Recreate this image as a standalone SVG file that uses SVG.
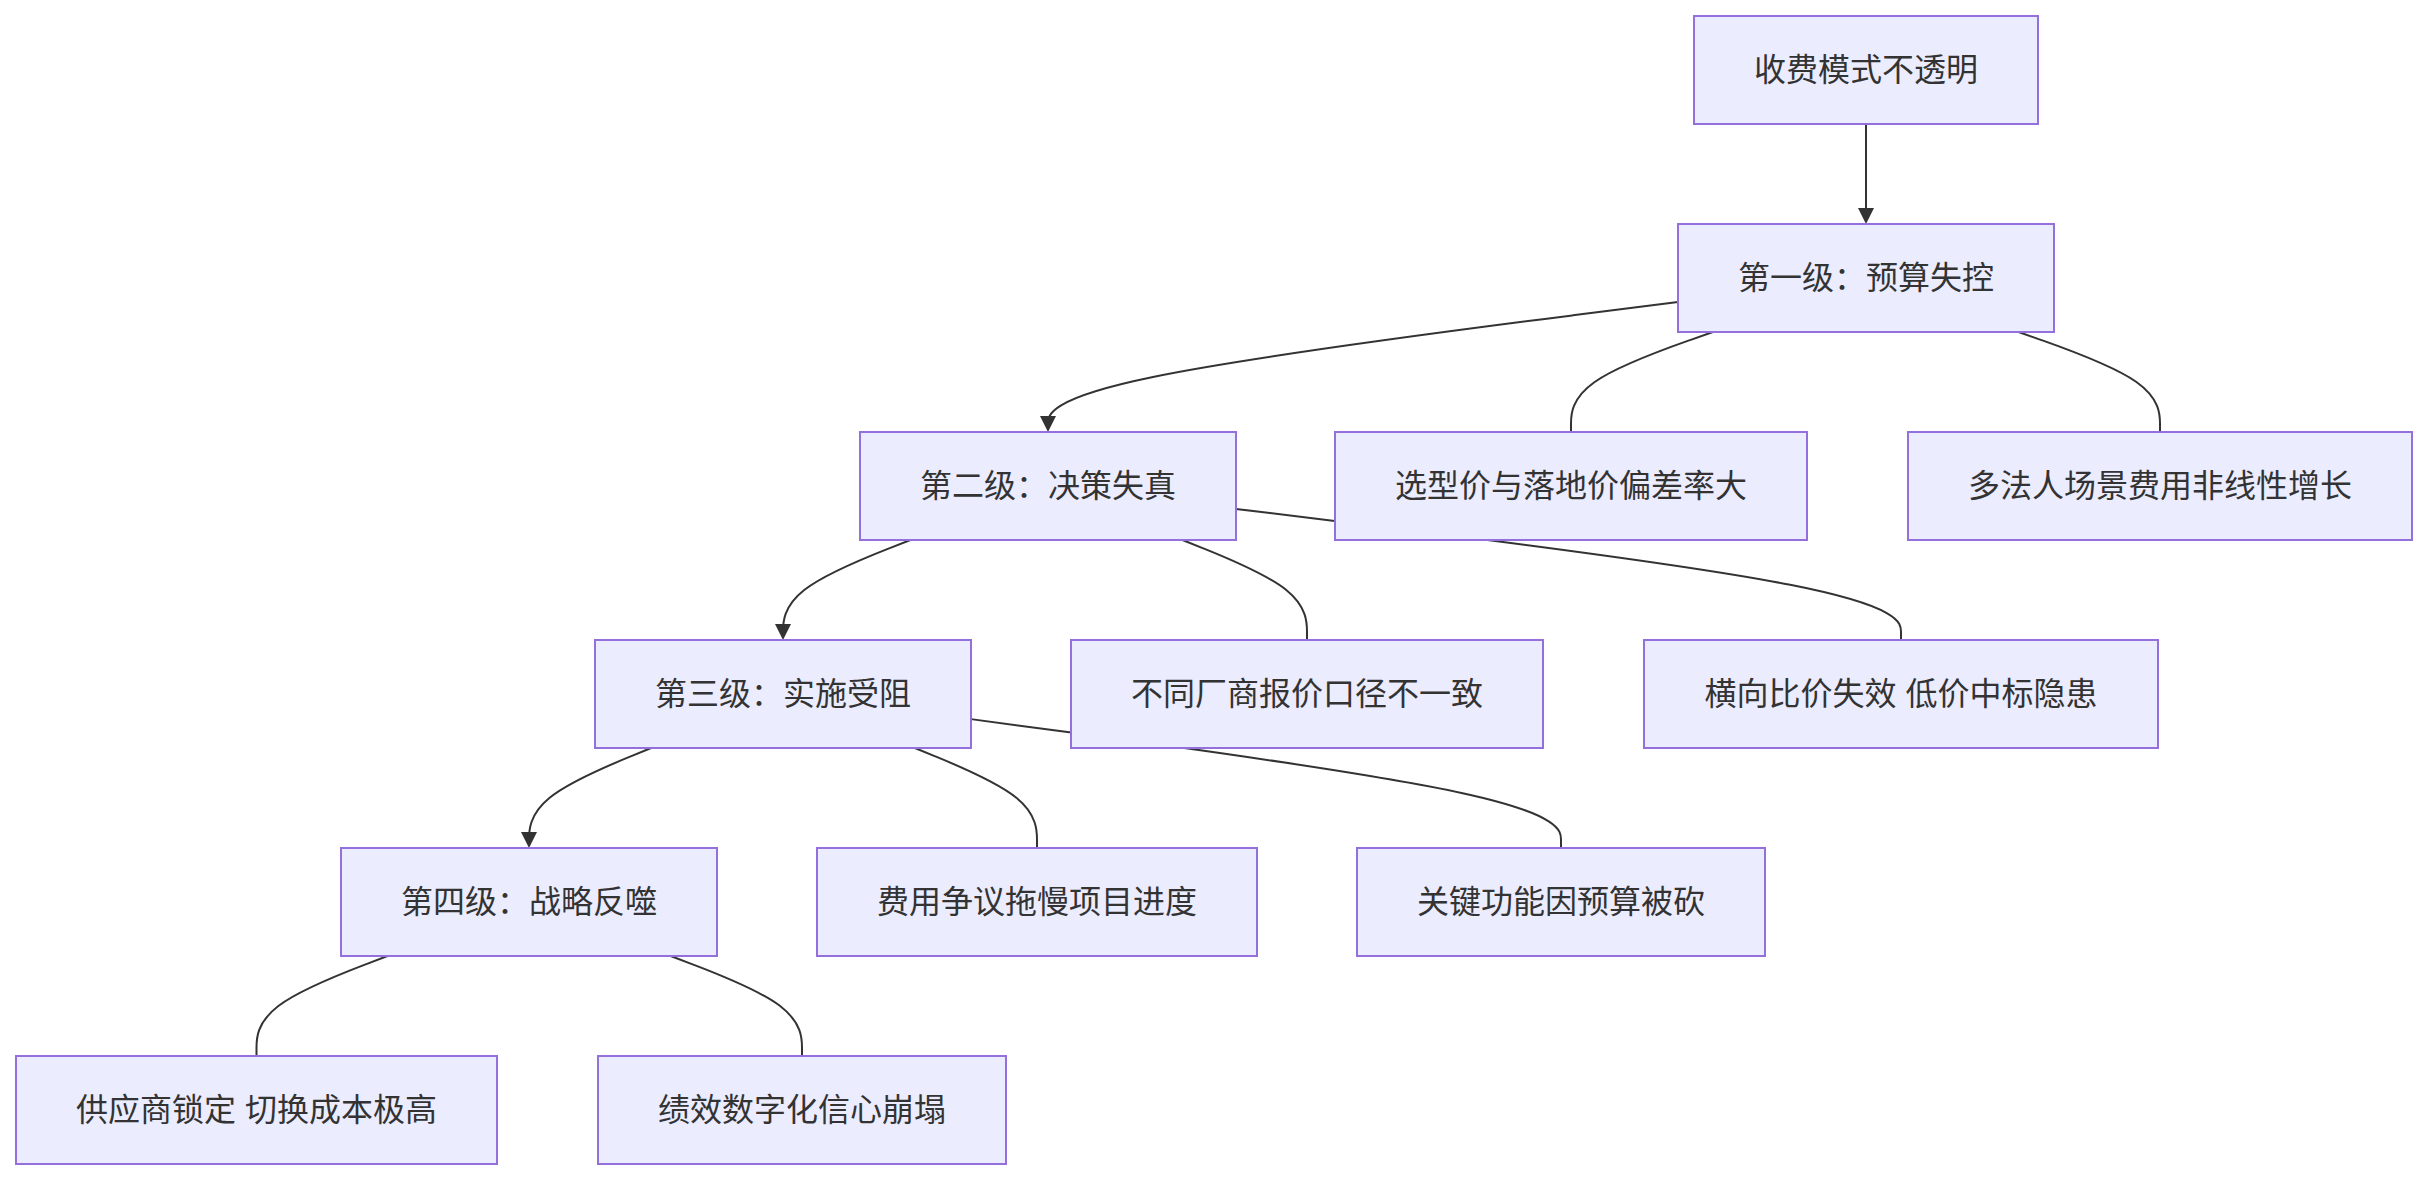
<svg xmlns="http://www.w3.org/2000/svg" width="2427" height="1180" viewBox="0 0 2427 1180">
<style>
.node rect{fill:#ECECFF;stroke:#9370DB;stroke-width:2}
.node text{font-family:"Liberation Sans","Noto Sans CJK SC",sans-serif;font-size:32px;fill:#333;text-anchor:middle;dominant-baseline:central}
.edge{fill:none;stroke:#333;stroke-width:2}
.arrow{marker-end:url(#arrowhead)}
</style>
<defs>
<marker id="arrowhead" viewBox="0 0 10 10" markerUnits="userSpaceOnUse" markerWidth="16" markerHeight="16" refX="7.5" refY="5" orient="auto">
<path d="M0,0 L10,5 L0,10 z" fill="#333"/>
</marker>
</defs>
<rect width="2427" height="1180" fill="#fff"/>
<g id="connectors">
<path class="edge arrow" d="M1866,124 L1866,220"/>
<path class="edge arrow" d="M1678,302 L1573,315.33 C1468,328.67 1258,355.33 1153,377 C1048,398.67 1048,415.33 1048,423.67 L1048,428"/>
<path class="edge" d="M1712.9,332 L1689.33,340.33 C1665.67,348.67 1618.33,365.33 1594.67,382 C1571,398.67 1571,415.33 1571,423.67 L1571,432"/>
<path class="edge" d="M2018.6,332 L2042.17,340.33 C2065.73,348.67 2112.87,365.33 2136.43,382 C2160,398.67 2160,415.33 2160,423.67 L2160,432"/>
<path class="edge arrow" d="M910.4,540 L889.17,548.33 C867.93,556.67 825.47,573.33 804.23,590 C783,606.67 783,623.33 783,631.67 L783,636"/>
<path class="edge" d="M1182.5,540 L1203.25,548.33 C1224,556.67 1265.5,573.33 1286.25,590 C1307,606.67 1307,623.33 1307,631.67 L1307,640"/>
<path class="edge" d="M1236,508.92 L1346.83,522.43 C1457.67,535.95 1679.33,562.97 1790.17,584.82 C1901,606.67 1901,623.33 1901,631.67 L1901,640"/>
<path class="edge arrow" d="M651.1,748 L630.75,756.33 C610.4,764.67 569.7,781.33 549.35,798 C529,814.67 529,831.33 529,839.67 L529,844"/>
<path class="edge" d="M914.9,748 L935.25,756.33 C955.6,764.67 996.3,781.33 1016.65,798 C1037,814.67 1037,831.33 1037,839.67 L1037,848"/>
<path class="edge" d="M971,719.13 L1069.33,732.28 C1167.67,745.42 1364.33,771.71 1462.67,793.19 C1561,814.67 1561,831.33 1561,839.67 L1561,848"/>
<path class="edge" d="M387.5,956 L365.67,964.33 C343.83,972.67 300.17,989.33 278.33,1006 C256.5,1022.67 256.5,1039.33 256.5,1047.67 L256.5,1056"/>
<path class="edge" d="M670.7,956 L692.58,964.33 C714.47,972.67 758.23,989.33 780.12,1006 C802,1022.67 802,1039.33 802,1047.67 L802,1056"/>
</g>
<g id="n-root" class="node"><rect x="1694" y="16" width="344" height="108"/><text x="1866" y="70">收费模式不透明</text></g>
<g id="n-l1" class="node"><rect x="1678" y="224" width="376" height="108"/><text x="1866" y="278">第一级：预算失控</text></g>
<g id="n-l2" class="node"><rect x="860" y="432" width="376" height="108"/><text x="1048" y="486">第二级：决策失真</text></g>
<g id="n-a1" class="node"><rect x="1335" y="432" width="472" height="108"/><text x="1571" y="486">选型价与落地价偏差率大</text></g>
<g id="n-a2" class="node"><rect x="1908" y="432" width="504" height="108"/><text x="2160" y="486">多法人场景费用非线性增长</text></g>
<g id="n-l3" class="node"><rect x="595" y="640" width="376" height="108"/><text x="783" y="694">第三级：实施受阻</text></g>
<g id="n-b1" class="node"><rect x="1071" y="640" width="472" height="108"/><text x="1307" y="694">不同厂商报价口径不一致</text></g>
<g id="n-b2" class="node"><rect x="1644" y="640" width="514" height="108"/><text x="1901" y="694">横向比价失效 低价中标隐患</text></g>
<g id="n-l4" class="node"><rect x="341" y="848" width="376" height="108"/><text x="529" y="902">第四级：战略反噬</text></g>
<g id="n-c1" class="node"><rect x="817" y="848" width="440" height="108"/><text x="1037" y="902">费用争议拖慢项目进度</text></g>
<g id="n-c2" class="node"><rect x="1357" y="848" width="408" height="108"/><text x="1561" y="902">关键功能因预算被砍</text></g>
<g id="n-d1" class="node"><rect x="16" y="1056" width="481" height="108"/><text x="256.5" y="1110">供应商锁定 切换成本极高</text></g>
<g id="n-d2" class="node"><rect x="598" y="1056" width="408" height="108"/><text x="802" y="1110">绩效数字化信心崩塌</text></g>
</svg>
